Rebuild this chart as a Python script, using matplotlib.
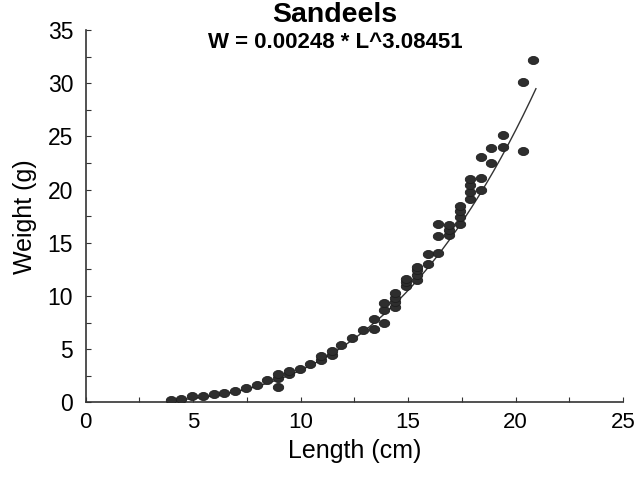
import matplotlib
matplotlib.use("Agg")
import matplotlib.pyplot as plt
import numpy as np

plt.rcParams["font.family"] = ["Liberation Sans", "DejaVu Sans"]

length = [3.95, 4.45, 4.95, 5.45, 5.95, 6.45, 6.95, 7.45, 7.95, 8.45,
          8.95, 8.95, 8.95,
          9.45, 9.45, 9.95, 10.45, 10.95, 10.95, 11.45, 11.45, 11.9, 12.4,
          12.9, 13.4, 13.4,
          13.9, 13.9, 13.9,
          14.4, 14.4, 14.4, 14.4,
          14.9, 14.9, 14.9,
          15.4, 15.4, 15.4, 15.4,
          15.95, 15.95,
          16.4, 16.4, 16.4,
          16.9, 16.9, 16.9,
          17.4, 17.4, 17.4, 17.4,
          17.9, 17.9, 17.9, 17.9,
          18.4, 18.4, 18.4,
          18.85, 18.85,
          19.4, 19.4,
          20.35, 20.35,
          20.8]
weight = [0.24, 0.34, 0.59, 0.62, 0.78, 0.90, 1.09, 1.37, 1.63, 2.10,
          2.25, 2.65, 1.41,
          2.70, 2.95, 3.16, 3.57, 3.95, 4.40, 4.45, 4.80, 5.41, 6.07,
          6.80, 6.90, 7.80,
          7.50, 8.65, 9.30,
          9.00, 9.40, 9.80, 10.25,
          10.90, 11.30, 11.60,
          11.50, 12.00, 12.40, 12.70,
          13.00, 13.90,
          14.00, 15.60, 16.80,
          15.70, 16.20, 16.70,
          16.80, 17.40, 18.00, 18.50,
          19.10, 19.80, 20.40, 20.96,
          20.00, 21.05, 23.10,
          22.50, 23.90,
          24.00, 25.10,
          23.60, 30.10,
          32.20]

A, B = 0.00248, 3.08451
fit_range = (3.95, 20.95)

x_ticks = [0, 5, 10, 15, 20, 25]
y_ticks = [0, 5, 10, 15, 20, 25, 30, 35]

fig = plt.figure(figsize=(6.36, 4.84), dpi=100)
ax = fig.add_axes([0.1347, 0.1688, 0.8448, 0.769])

# slightly flattened dots like the original plot symbols
t = np.linspace(0, 2 * np.pi, 40)
ellipse = list(zip(1.3 * np.cos(t), np.sin(t)))
ax.plot(length, weight, linestyle="none", marker=ellipse, ms=7.5,
        mfc="#2e2e2e", mec="#1e1e1e", mew=0.6, zorder=3)

lf = np.linspace(fit_range[0], fit_range[1], 200)
ax.plot(lf, A * lf ** B, color="#333333", lw=1.0, zorder=2)

ax.set_xlim(0, 25)
ax.set_ylim(0, 35)
ax.set_xticks(x_ticks)
ax.set_yticks(y_ticks)
ax.set_xticks(np.arange(0, 25.1, 2.5), minor=True)
ax.set_yticks(np.arange(0, 35.1, 2.5), minor=True)
ax.tick_params(which="both", direction="in", length=3.5, width=0.8,
               color="#333333")
ax.tick_params(axis="x", which="major", labelsize=16, pad=7)
ax.tick_params(axis="y", which="major", labelsize=16.5, pad=9)

for side in ("top", "right"):
    ax.spines[side].set_visible(False)
for side in ("left", "bottom"):
    ax.spines[side].set_linewidth(1.2)
    ax.spines[side].set_color("#333333")

ax.set_xlabel("Length (cm)", fontsize=18, labelpad=4)
ax.set_ylabel("Weight (g)", fontsize=18, labelpad=8)

fig.text(335 / 636, 1 - 15 / 484, "Sandeels", ha="center", va="center",
         fontsize=20.5, fontweight="bold")
fig.text(335 / 636, 1 - 42 / 484, "W = 0.00248 * L^3.08451", ha="center",
         va="center", fontsize=16, fontweight="bold")

fig.savefig("out.png", dpi=100)
